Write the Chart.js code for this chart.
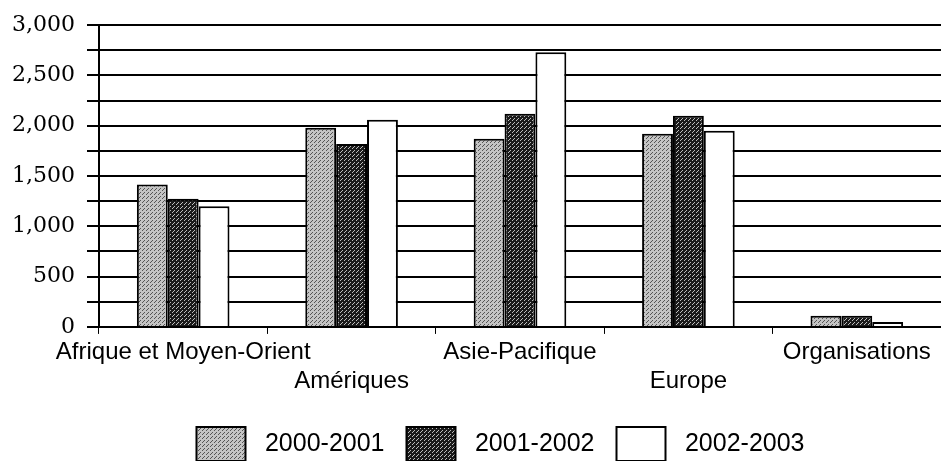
<!DOCTYPE html>
<html lang="fr">
<head>
    <meta charset="UTF-8">
    <title>Répartition par région</title>
    <script src="https://cdn.jsdelivr.net/npm/chart.js"></script>
    <style>
        body { margin: 0; background: #fff; }
        #wrap { width: 941px; height: 461px; }
    </style>
</head>
<body>
    <div id="wrap"><canvas id="regionChart"></canvas></div>

    <script>
        // data
        const regions = ['Afrique et Moyen-Orient', 'Amériques', 'Asie-Pacifique', 'Europe', 'Organisations'];
        const years = ['2000-2001', '2001-2002', '2002-2003'];
        const v2000 = [1415, 1980, 1870, 1920, 110];
        const v2001 = [1275, 1820, 2120, 2100, 110];
        const v2002 = [1200, 2060, 2730, 1950, 50];
        const yTicks = [0, 500, 1000, 1500, 2000, 2500, 3000];

        // small stipple patterns to imitate the printed shading
        function stipple(bg, fg, cells) {
            const c = document.createElement('canvas');
            c.width = 4; c.height = 4;
            const x = c.getContext('2d');
            x.fillStyle = bg; x.fillRect(0, 0, 4, 4);
            x.fillStyle = fg;
            cells.forEach(p => x.fillRect(p[0], p[1], 1, 1));
            return x.createPattern(c, 'repeat');
        }
        const ctx = document.getElementById('regionChart').getContext('2d');
        const light = stipple('#c4c4c4', '#555', [[0, 0], [2, 2], [3, 1]]);
        const dark = stipple('#1a1a1a', '#bdbdbd', [[0, 0], [2, 2], [1, 3]]);

        // stagger every other category label onto a second line
        const labels = regions.map((r, i) => i % 2 ? ['', r] : [r]);

        // the legend in the original sits a bit right of centre, on the bottom edge
        const legendNudge = {
            id: 'legendNudge',
            afterLayout(chart) {
                const lg = chart.legend;
                const dy = 405 - lg.top;
                lg.top += dy; lg.bottom += dy;
                lg.right += 60;
            }
        };

        new Chart(ctx, {
            type: 'bar',
            data: {
                labels: labels,
                datasets: [
                    { label: years[0], data: v2000, backgroundColor: light },
                    { label: years[1], data: v2001, backgroundColor: dark },
                    { label: years[2], data: v2002, backgroundColor: '#fff' }
                ].map(d => Object.assign(d, {
                    borderColor: '#000', borderWidth: 2,
                    categoryPercentage: 0.55, barPercentage: 1
                }))
            },
            plugins: [legendNudge],
            options: {
                responsive: true,
                maintainAspectRatio: false,
                animation: false,
                layout: { padding: { top: 14, right: 0, left: 0, bottom: -5 } },
                plugins: {
                    tooltip: { enabled: false },
                    legend: {
                        position: 'bottom',
                        labels: {
                            color: '#000',
                            font: { family: 'Liberation Sans', size: 25 },
                            boxWidth: 49, boxHeight: 34,
                            padding: 22,
                            generateLabels: chart => chart.data.datasets.map((d, i) => ({
                                text: ' ' + d.label,
                                fillStyle: d.backgroundColor,
                                strokeStyle: '#000',
                                lineWidth: 2,
                                datasetIndex: i
                            }))
                        }
                    }
                },
                scales: {
                    x: {
                        grid: {
                            offset: true, drawOnChartArea: false,
                            color: '#000', tickLength: 7, lineWidth: 1
                        },
                        border: { color: '#000', width: 2 },
                        ticks: {
                            color: '#000', maxRotation: 0, autoSkip: false,
                            padding: 4,
                            font: { family: 'Liberation Sans', size: 24, lineHeight: 1.21 }
                        }
                    },
                    y: {
                        min: 0, max: 3000,
                        grid: { color: '#000', lineWidth: 2, tickLength: 12 },
                        border: { color: '#000', width: 2 },
                        ticks: {
                            stepSize: 250, autoSkip: false, color: '#000', padding: 12,
                            font: { family: 'DejaVu Serif', size: 22 },
                            callback: v => yTicks.includes(v) ? v.toLocaleString('en-US') : ''
                        }
                    }
                }
            }
        });
    </script>
</body>
</html>
